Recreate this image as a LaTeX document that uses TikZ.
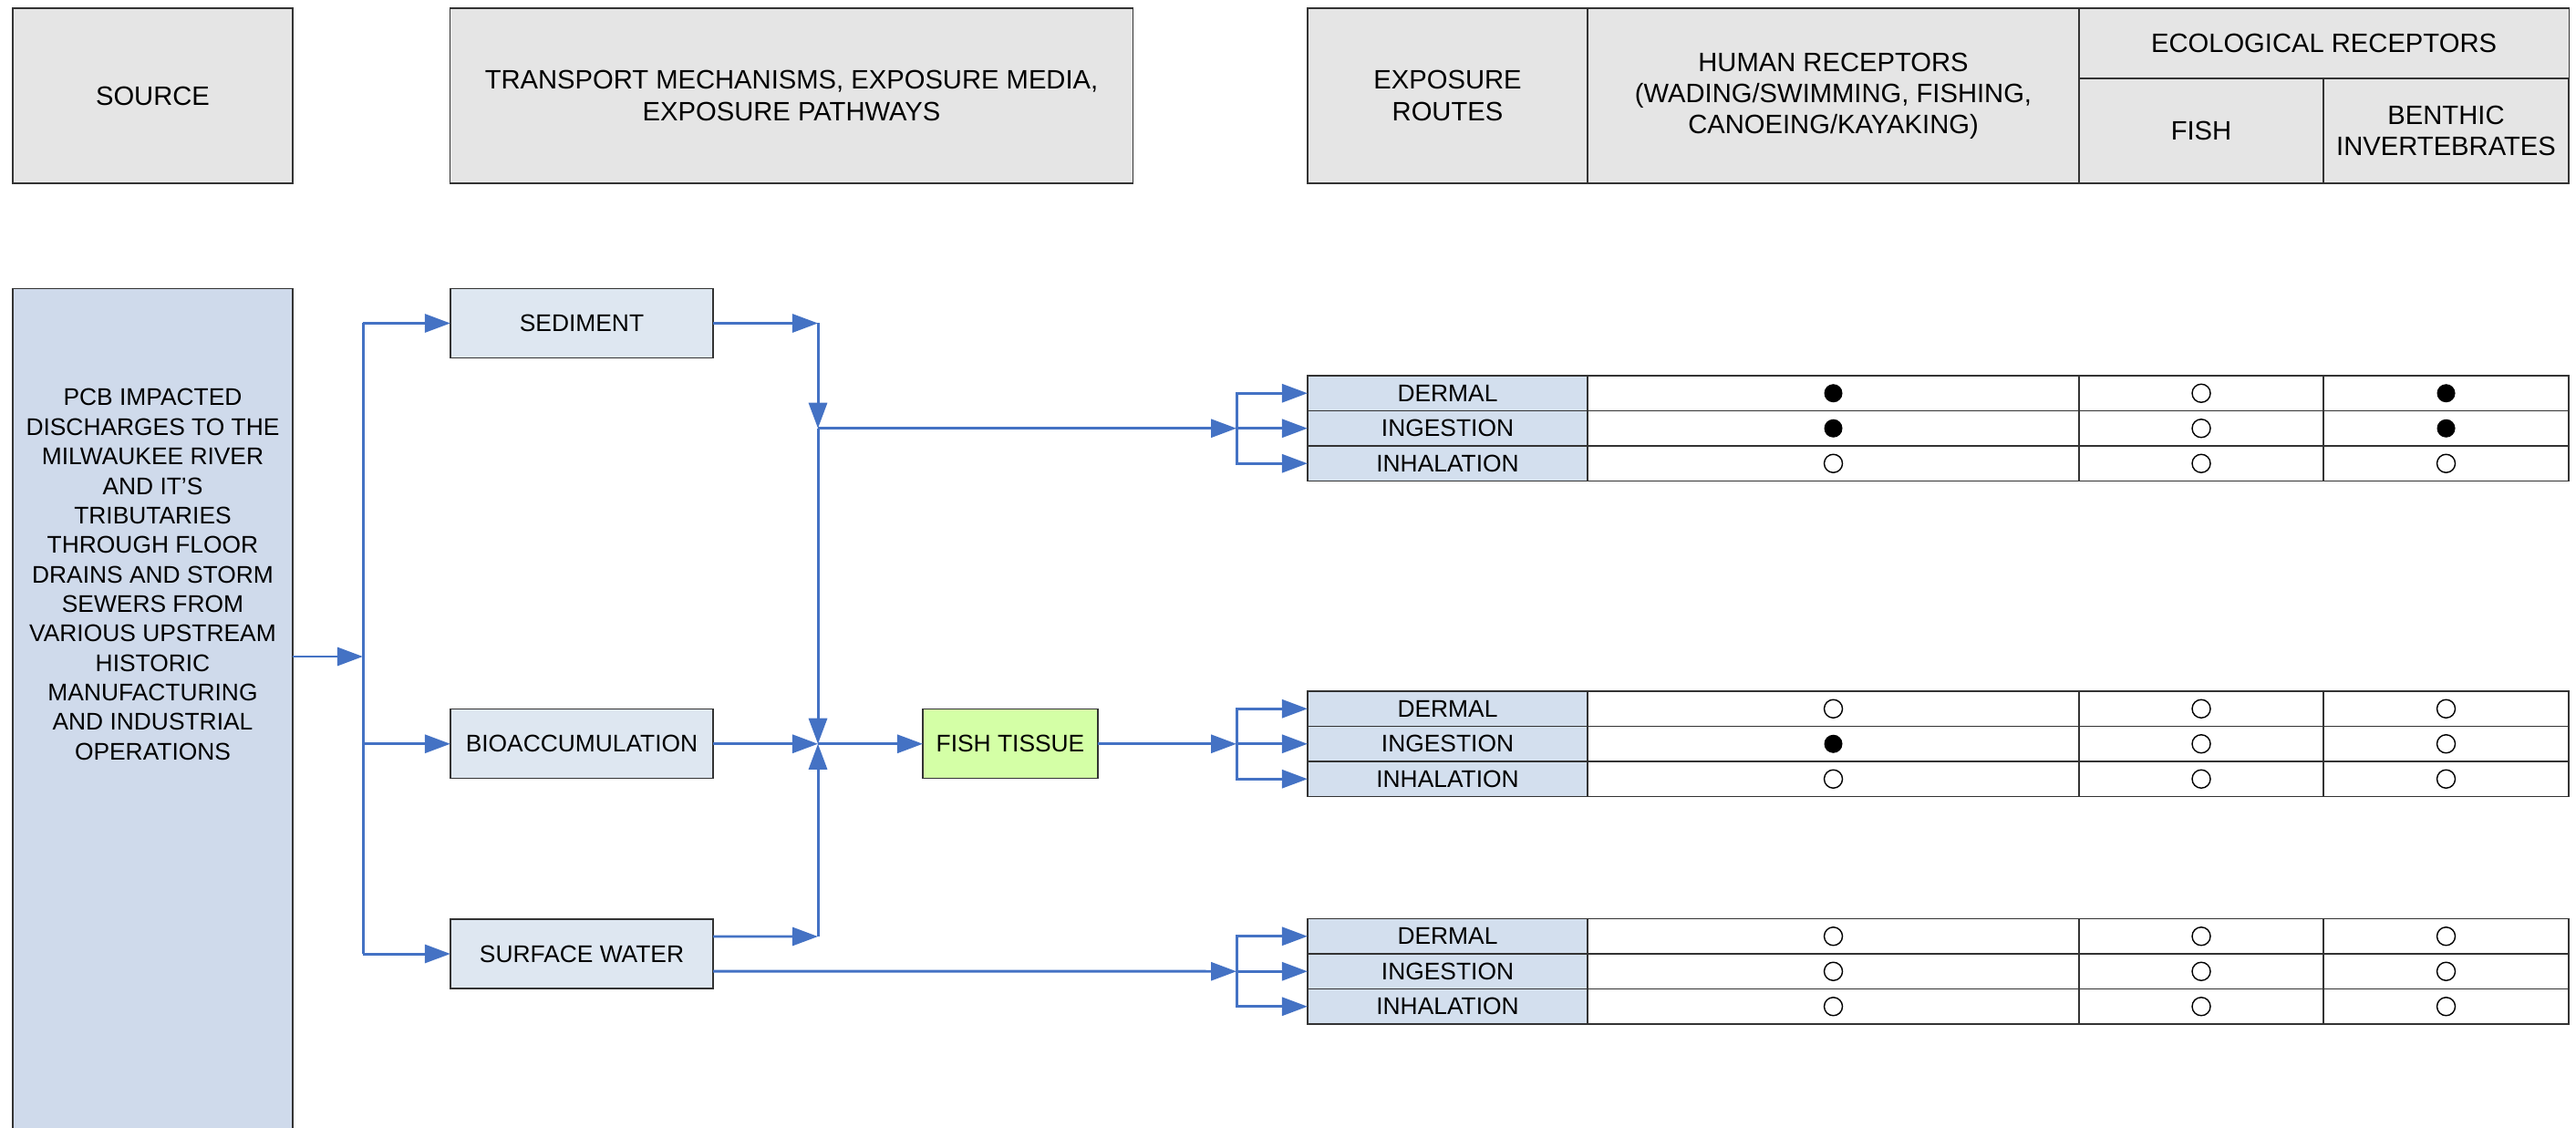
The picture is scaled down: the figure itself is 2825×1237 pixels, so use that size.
\documentclass[tikz,border=0pt]{standalone}
\usepackage{fontspec}
\setmainfont{Liberation Sans}
\usetikzlibrary{arrows.meta}
\definecolor{flowblue}{RGB}{68,114,196}
\definecolor{headgray}{RGB}{229,229,229}
\definecolor{srcblue}{RGB}{207,218,235}
\definecolor{medblue}{RGB}{222,231,241}
\definecolor{routeblue}{RGB}{211,223,238}
\definecolor{tissuegreen}{RGB}{212,255,166}
\begin{document}
\begin{tikzpicture}[x=0.01cm,y=-0.01cm,
box/.style={shape=rectangle,draw=black!80,line width=0.4pt,inner sep=0pt,outer sep=0pt,align=center,font=\fontsize{7.5}{9.2}\selectfont},
head/.style={box,fill=headgray,font=\fontsize{8.3}{9.7}\selectfont},
media/.style={box,fill=medblue,minimum width=2.88cm,minimum height=0.76cm},
route/.style={box,fill=routeblue,minimum width=3.07cm,minimum height=0.385cm},
cell/.style={box,fill=white,minimum height=0.385cm},
cellY/.style={cell,path picture={\fill[black] (path picture bounding box.center) circle (0.1cm);}},
cellN/.style={cell,path picture={\draw[black,line width=0.4pt] (path picture bounding box.center) circle (0.1cm);}},
flow/.style={draw=flowblue,line width=0.85pt,-{Triangle[length=0.28cm,width=0.2cm]}},
pipe/.style={draw=flowblue,line width=0.85pt}]
\def\xr{1587.5}
\def\xh{2010.5}
\def\xf{2414}
\def\xb{2682.5}
\def\wh{5.39cm}
\def\wf{2.68cm}
\def\wb{2.69cm}

\useasboundingbox (0,0) rectangle (2825,1237);

% header row
\node[head,minimum width=3.07cm,minimum height=1.92cm] (hSRC) at (167.5,105) {SOURCE};
\node[head,minimum width=7.48cm,minimum height=1.92cm] (hTR) at (868,105) {TRANSPORT MECHANISMS, EXPOSURE MEDIA,\\EXPOSURE PATHWAYS};
\node[head,minimum width=3.07cm,minimum height=1.92cm] (hRT) at (\xr,105) {EXPOSURE\\ROUTES};
\node[head,minimum width=\wh,minimum height=1.92cm] (hHUM) at (\xh,105) {HUMAN RECEPTORS\\(WADING/SWIMMING, FISHING,\\CANOEING/KAYAKING)};
\node[head,minimum width=5.37cm,minimum height=0.77cm] (hECO) at (2548.5,47.5) {ECOLOGICAL RECEPTORS};
\node[head,minimum width=\wf,minimum height=1.15cm] (hFSH) at (\xf,143.5) {FISH};
\node[head,minimum width=\wb,minimum height=1.15cm] (hBEN) at (\xb,143.5) {BENTHIC\\INVERTEBRATES};

% source
\begin{scope}
\clip (0,0) rectangle (2825,1237);
\node[box,fill=srcblue,minimum width=3.07cm,minimum height=9.9cm] (SRC) at (167.5,812) {};
\end{scope}
\node[align=center,inner sep=0pt,font=\fontsize{7.5}{9.2}\selectfont] (SRCtxt) at (167.5,630) {PCB IMPACTED\\DISCHARGES TO THE\\MILWAUKEE RIVER\\AND IT’S\\TRIBUTARIES\\THROUGH FLOOR\\DRAINS AND STORM\\SEWERS FROM\\VARIOUS UPSTREAM\\HISTORIC\\MANUFACTURING\\AND INDUSTRIAL\\OPERATIONS};

% media
\node[media] (SED) at (638,354.5) {SEDIMENT};
\node[media] (BIO) at (638,815.75) {BIOACCUMULATION};
\node[media] (SW) at (638,1046) {SURFACE WATER};
\node[box,fill=tissuegreen,minimum width=1.92cm,minimum height=0.76cm] (FT) at (1108,815.75) {FISH TISSUE};

\coordinate (T) at (398,720);
\coordinate (JA) at (897,469.75);
\coordinate (J) at (897,815.75);
\coordinate (JC) at (897,1027);
\coordinate (B1) at (1356,469.75);
\coordinate (B2) at (1356,815.75);
\coordinate (B3) at (1356,1065.25);

\draw[flow] (SRC.east |- T) -- (T);
\draw[pipe] (T |- SED) -- (T |- SW);
\draw[flow] (T |- SED) -- (SED.west);
\draw[flow] (T |- BIO) -- (BIO.west);
\draw[flow] (T |- SW) -- (SW.west);

\draw[flow] (SED.east) -- (SED.east -| J);
\draw[flow] (SED.east -| J) -- (JA);
\draw[flow] (JA) -- (J);
\draw[flow] (BIO.east) -- (J);
\draw[flow] ([yshift=0.19cm]SW.east) -- (JC);
\draw[flow] (JC) -- (J);
\draw[flow] (J) -- (FT.west);
\draw[flow] (JA) -- (B1);
\draw[flow] (FT.east) -- (B2);
\draw[flow] ([yshift=-0.19cm]SW.east) -- (B3);

% sediment routes
\node[route] (D1) at (\xr,431.25) {DERMAL};
\node[cellY,minimum width=\wh] (D1h) at (\xh,431.25) {};
\node[cellN,minimum width=\wf] (D1f) at (\xf,431.25) {};
\node[cellY,minimum width=\wb] (D1b) at (\xb,431.25) {};
\node[route] (I1) at (\xr,469.75) {INGESTION};
\node[cellY,minimum width=\wh] (I1h) at (\xh,469.75) {};
\node[cellN,minimum width=\wf] (I1f) at (\xf,469.75) {};
\node[cellY,minimum width=\wb] (I1b) at (\xb,469.75) {};
\node[route] (H1) at (\xr,508.25) {INHALATION};
\node[cellN,minimum width=\wh] (H1h) at (\xh,508.25) {};
\node[cellN,minimum width=\wf] (H1f) at (\xf,508.25) {};
\node[cellN,minimum width=\wb] (H1b) at (\xb,508.25) {};

% fish tissue routes
\node[route] (D2) at (\xr,777.25) {DERMAL};
\node[cellN,minimum width=\wh] (D2h) at (\xh,777.25) {};
\node[cellN,minimum width=\wf] (D2f) at (\xf,777.25) {};
\node[cellN,minimum width=\wb] (D2b) at (\xb,777.25) {};
\node[route] (I2) at (\xr,815.75) {INGESTION};
\node[cellY,minimum width=\wh] (I2h) at (\xh,815.75) {};
\node[cellN,minimum width=\wf] (I2f) at (\xf,815.75) {};
\node[cellN,minimum width=\wb] (I2b) at (\xb,815.75) {};
\node[route] (H2) at (\xr,854.25) {INHALATION};
\node[cellN,minimum width=\wh] (H2h) at (\xh,854.25) {};
\node[cellN,minimum width=\wf] (H2f) at (\xf,854.25) {};
\node[cellN,minimum width=\wb] (H2b) at (\xb,854.25) {};

% surface water routes
\node[route] (D3) at (\xr,1026.75) {DERMAL};
\node[cellN,minimum width=\wh] (D3h) at (\xh,1026.75) {};
\node[cellN,minimum width=\wf] (D3f) at (\xf,1026.75) {};
\node[cellN,minimum width=\wb] (D3b) at (\xb,1026.75) {};
\node[route] (I3) at (\xr,1065.25) {INGESTION};
\node[cellN,minimum width=\wh] (I3h) at (\xh,1065.25) {};
\node[cellN,minimum width=\wf] (I3f) at (\xf,1065.25) {};
\node[cellN,minimum width=\wb] (I3b) at (\xb,1065.25) {};
\node[route] (H3) at (\xr,1103.75) {INHALATION};
\node[cellN,minimum width=\wh] (H3h) at (\xh,1103.75) {};
\node[cellN,minimum width=\wf] (H3f) at (\xf,1103.75) {};
\node[cellN,minimum width=\wb] (H3b) at (\xb,1103.75) {};

\draw[flow] (B1) -- (I1.west);
\draw[flow] (B1) |- (D1.west);
\draw[flow] (B1) |- (H1.west);
\draw[flow] (B2) -- (I2.west);
\draw[flow] (B2) |- (D2.west);
\draw[flow] (B2) |- (H2.west);
\draw[flow] (B3) -- (I3.west);
\draw[flow] (B3) |- (D3.west);
\draw[flow] (B3) |- (H3.west);
\end{tikzpicture}
\end{document}
